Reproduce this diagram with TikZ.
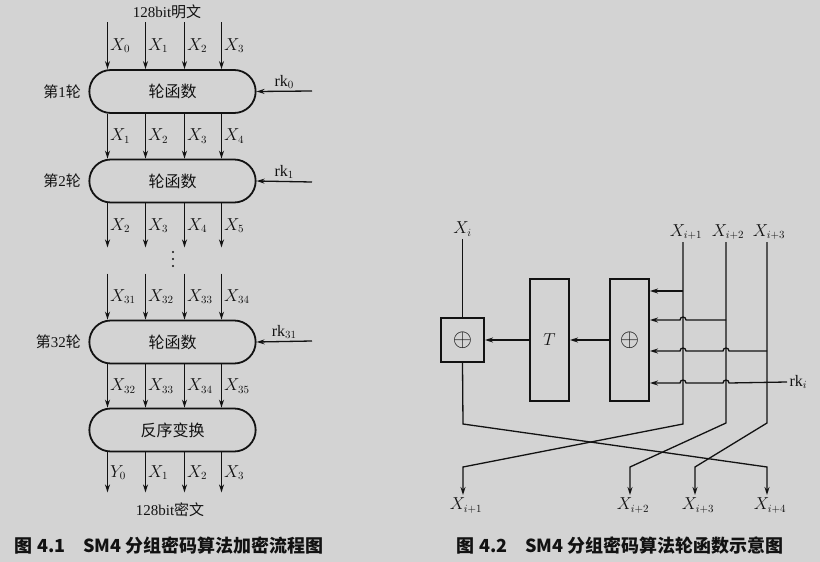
\documentclass[tikz,border=0pt]{standalone}
\usepackage{fontspec}
\setmainfont{Liberation Serif}
\newfontfamily\cjk{Noto Sans CJK SC}
\usetikzlibrary{arrows.meta, positioning, shapes.misc}
\definecolor{paper}{RGB}{211,211,211}
\definecolor{ink}{RGB}{18,18,18}

\begin{document}
\begin{tikzpicture}[
  x=1pt, y=-1pt, color=ink, line width=1.3pt,
  round/.style={rounded rectangle, draw, line width=1.8pt, minimum width=173pt, minimum height=43pt, font=\cjk\fontsize{16}{18}\selectfont},
  tag/.style={font=\fontsize{15}{17}\selectfont, inner sep=0pt},
  lab/.style={font=\fontsize{16}{18}\selectfont, inner sep=2pt},
  blk/.style={rectangle, draw, line width=2pt, minimum width=39pt, minimum height=122pt, font=\fontsize{16}{18}\selectfont},
  sum/.style={font=\fontsize{26}{28}\selectfont},
  figcap/.style={font=\cjk\bfseries\fontsize{18}{20}\selectfont, anchor=west},
  >={Stealth[length=8pt, width=5pt]}
]
\useasboundingbox (0,0) rectangle (820,562);
\fill[paper] (0,0) rectangle (820,562);

% Fig 4.1
\node[tag] (plain) at (167,12) {128bit{\cjk 明文}};
\node[round] (r1) at (172.5,91.5) {轮函数};
\node[round] (r2) at (172.5,181) {轮函数};
\foreach \y in {252,259,266}
  \fill (173,\y) circle (1.1);
\node[round] (r32) at (172.5,342) {轮函数};
\node[round] (rev) at (172.5,430) {反序变换};
\node[tag] (cipher) at (170,510) {128bit{\cjk 密文}};

\node[tag, left=7pt of r1] {{\cjk 第}1{\cjk 轮}};
\node[tag, left=7pt of r2] {{\cjk 第}2{\cjk 轮}};
\node[tag, left=7pt of r32] {{\cjk 第}32{\cjk 轮}};

\coordinate (k0) at (312,91);
\coordinate (k1) at (312,182);
\coordinate (k31) at (312,341);
\draw[->] (k0) -- node[above, lab] {rk$_0$} (r1.east);
\draw[->] (k1) -- node[above, lab] {rk$_1$} (r2.east);
\draw[->] (k31) -- node[above, lab] {rk$_{31}$} (r32.east);

\foreach \dx/\t in {-65/X_0, -27/X_1, 12/X_2, 49/X_3}
  \draw[->] ([xshift=\dx pt, yshift=47pt]r1.north) -- node[right, lab] {$\t$} ([xshift=\dx pt]r1.north);
\foreach \dx/\t in {-65/X_1, -27/X_2, 12/X_3, 49/X_4}
  \draw[->] ([xshift=\dx pt]r1.south) -- node[right, lab] {$\t$} ([xshift=\dx pt]r2.north);
\foreach \dx/\t in {-65/X_2, -27/X_3, 12/X_4, 49/X_5}
  \draw[->] ([xshift=\dx pt]r2.south) -- node[right, lab] {$\t$} ([xshift=\dx pt, yshift=-44pt]r2.south);
\foreach \dx/\t in {-65/X_{31}, -27/X_{32}, 12/X_{33}, 49/X_{34}}
  \draw[->] ([xshift=\dx pt, yshift=46pt]r32.north) -- node[right, lab] {$\t$} ([xshift=\dx pt]r32.north);
\foreach \dx/\t in {-65/X_{32}, -27/X_{33}, 12/X_{34}, 49/X_{35}}
  \draw[->] ([xshift=\dx pt]r32.south) -- node[right, lab] {$\t$} ([xshift=\dx pt]rev.north);
\foreach \dx/\t in {-65/Y_0, -27/X_1, 12/X_2, 49/X_3}
  \draw[->] ([xshift=\dx pt]rev.south) -- node[right, lab] {$\t$} ([xshift=\dx pt, yshift=-40pt]rev.south);

% Fig 4.2
\node[lab] (xi) at (462.5,229) {$X_i$};
\node[blk, sum, minimum width=43pt, minimum height=44pt] (addL) at (462.5,340) {$\oplus$};
\node[blk] (tbox) at (549.5,340) {$T$};
\node[blk, sum] (addR) at (629.5,340) {$\oplus$};
\draw (xi) -- (addL);
\draw[->] (addR) -- (tbox);
\draw[->] (tbox) -- (addL);

\node[lab] (xa) at (686,232) {$X_{i+1}$};
\node[lab] (xb) at (728,232) {$X_{i+2}$};
\node[lab] (xc) at (769,232) {$X_{i+3}$};
\coordinate (ta) at (683,242);
\coordinate (tb) at (726,242);
\coordinate (tc) at (767,242);
\node[lab, anchor=west] (rk) at (787,382) {rk$_i$};

\draw[->] (683,291) -- ([yshift=49pt]addR.east);
\draw[->] (726,320) -- (686,320) arc(0:-180:3) -- ([yshift=20pt]addR.east);
\draw[->] (767,351) -- (729,351) arc(0:-180:3) -- (686,351) arc(0:-180:3) -- ([yshift=-11pt]addR.east);
\draw[->] (rk.west) -- (729,383) arc(0:-180:3) -- (686,383) arc(0:-180:3) -- ([yshift=-43pt]addR.east);

\draw[->] (ta) -- (683,424) -- (463,467) -- (463,495) node[lab, below, xshift=3pt] (ya) {$X_{i+1}$};
\draw[->] (tb) -- (726,423) -- (630,467) -- (630,495) node[lab, below, xshift=3pt] (yb) {$X_{i+2}$};
\draw[->] (tc) -- (767,423) -- (695,467) -- (695,495) node[lab, below, xshift=3pt] (yc) {$X_{i+3}$};
\draw[->] (addL.south) -- (463,424) -- (767,467) -- (767,495) node[lab, below, xshift=3pt] (yd) {$X_{i+4}$};

\node[figcap] (cap1) at (11,546) {图 4.1\quad SM4 分组密码算法加密流程图};
\node[figcap] (cap2) at (453,546) {图 4.2\quad SM4 分组密码算法轮函数示意图};
\end{tikzpicture}
\end{document}
